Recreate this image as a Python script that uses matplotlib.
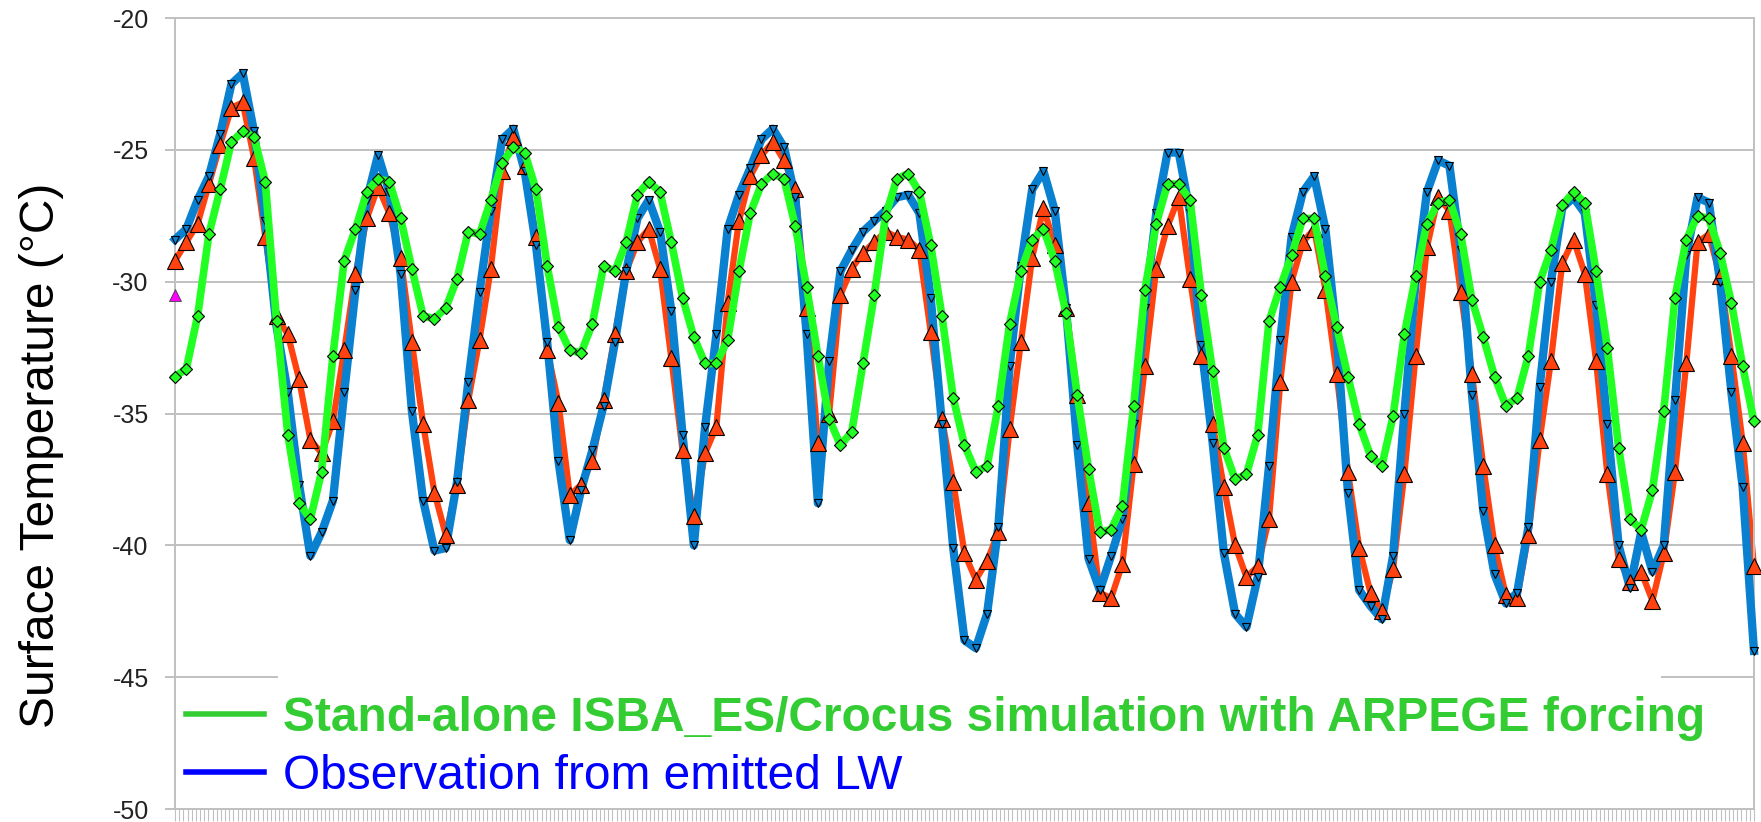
import numpy as np
import matplotlib
matplotlib.use('Agg')
import matplotlib.pyplot as plt
from matplotlib.patches import Rectangle
from matplotlib.lines import Line2D

plt.rcParams['font.family'] = ['Liberation Sans', 'DejaVu Sans']
plt.rcParams['axes.unicode_minus'] = False

# Stand-alone ISBA_ES/Crocus simulation (green)
sim = [-33.6, -33.3, -31.3, -28.2, -26.5, -24.7, -24.3, -24.5, -26.2, -31.5,
       -35.8, -38.4, -39.0, -37.2, -32.8, -29.2, -28.0, -26.6, -26.1, -26.2,
       -27.6, -29.5, -31.3, -31.4, -31.0, -29.9, -28.1, -28.2, -26.9, -25.5,
       -24.9, -25.1, -26.5, -29.4, -31.7, -32.6, -32.7, -31.6, -29.4, -29.6,
       -28.5, -26.7, -26.2, -26.6, -28.5, -30.6, -32.1, -33.1, -33.1, -32.2,
       -29.6, -27.4, -26.3, -25.9, -26.1, -27.9, -30.2, -32.8, -35.2, -36.2,
       -35.7, -33.1, -30.5, -27.5, -26.1, -25.9, -26.6, -28.6, -31.3, -34.4,
       -36.2, -37.2, -37.0, -34.7, -31.6, -29.6, -28.4, -28.0, -29.2, -31.2,
       -34.3, -37.1, -39.5, -39.4, -38.5, -34.7, -30.3, -27.8, -26.3, -26.3,
       -26.9, -30.5, -33.4, -36.3, -37.5, -37.3, -35.8, -31.5, -30.2, -29.0,
       -27.6, -27.6, -29.8, -31.7, -33.6, -35.4, -36.6, -37.0, -35.1, -32.0,
       -29.8, -27.8, -27.0, -26.9, -28.2, -30.7, -32.1, -33.6, -34.7, -34.4,
       -32.8, -30.0, -28.8, -27.1, -26.6, -27.0, -29.6, -32.5, -36.3, -39.0,
       -39.4, -37.9, -34.9, -30.6, -28.4, -27.5, -27.6, -28.9, -30.8, -33.2,
       -35.3]

# Observation from emitted LW (blue)
obs = [-28.4, -28.0, -26.9, -26.0, -24.4, -22.5, -22.1, -24.3, -27.7, -31.7,
       -34.2, -37.7, -40.4, -39.5, -38.3, -34.2, -30.3, -26.9, -25.2, -26.6,
       -29.7, -34.9, -38.3, -40.2, -40.1, -37.6, -33.8, -30.4, -27.3, -24.6,
       -24.2, -25.8, -28.6, -32.3, -36.8, -39.8, -37.9, -36.4, -34.7, -32.3,
       -29.6, -27.6, -26.9, -28.1, -31.1, -35.8, -40.0, -35.5, -32.0, -28.0,
       -26.7, -25.7, -24.6, -24.2, -24.9, -26.8, -32.0, -38.4, -33.0, -29.6,
       -28.8, -28.1, -27.7, -27.3, -26.8, -26.7, -27.4, -30.6, -35.4, -40.1,
       -43.6, -43.9, -42.6, -39.3, -33.2, -29.4, -26.5, -25.8, -27.3, -31.0,
       -36.2, -40.5, -41.7, -40.4, -39.0, -35.4, -31.0, -27.4, -25.1, -25.1,
       -27.4, -32.4, -36.1, -40.3, -42.6, -43.1, -41.2, -37.0, -32.2, -28.3,
       -26.6, -26.0, -28.0, -32.0, -38.0, -41.7, -42.3, -42.8, -40.4, -35.0,
       -30.0, -26.6, -25.4, -25.6, -28.8, -34.3, -38.7, -41.1, -42.2, -41.8,
       -39.3, -34.0, -30.0, -27.2, -26.8, -27.4, -30.9, -35.4, -40.0, -41.6,
       -39.5, -41.0, -40.0, -34.5, -29.0, -26.8, -27.0, -30.0, -34.2, -37.8,
       -44.0]

# third series (orange triangles)
other = [-29.2, -28.5, -27.8, -26.3, -24.8, -23.4, -23.2, -25.3, -28.3, -31.3,
         -32.0, -33.7, -36.0, -36.5, -35.3, -32.6, -29.7, -27.6, -26.4, -27.4,
         -29.1, -32.3, -35.4, -38.0, -39.6, -37.7, -34.5, -32.2, -29.5, -25.8,
         -24.5, -25.6, -28.3, -32.6, -34.6, -38.1, -37.7, -36.8, -34.5, -32.0,
         -29.6, -28.5, -28.0, -29.5, -32.9, -36.4, -38.9, -36.5, -35.5, -30.8,
         -27.7, -26.0, -25.2, -24.7, -25.4, -26.5, -31.0, -36.1, -35.0, -30.5,
         -29.5, -28.9, -28.5, -28.1, -28.3, -28.4, -28.8, -31.9, -35.2, -37.6,
         -40.3, -41.3, -40.6, -39.5, -35.6, -32.3, -29.1, -27.2, -28.6, -31.0,
         -34.3, -38.4, -41.8, -42.0, -40.7, -36.9, -33.2, -29.5, -27.9, -26.8,
         -29.9, -32.8, -35.4, -37.8, -40.0, -41.2, -40.8, -39.0, -33.8, -30.0,
         -28.5, -28.0, -30.3, -33.5, -37.2, -40.1, -41.8, -42.5, -40.9, -37.3,
         -32.8, -28.7, -26.8, -27.3, -30.4, -33.5, -37.0, -40.0, -41.9, -42.0,
         -39.6, -36.0, -33.0, -29.3, -28.4, -29.7, -33.0, -37.3, -40.5, -41.4,
         -41.0, -42.1, -40.3, -37.2, -33.1, -28.5, -28.2, -29.8, -32.8, -36.1,
         -40.8]

first_point = [-30.5]

labels = ['Stand-alone ISBA_ES/Crocus simulation with ARPEGE forcing',
          'Observation from emitted LW']
label_colors = ['#33cc33', '#0000ff']
yticks = [-50, -45, -40, -35, -30, -25, -20]

grey = '#c0c0c0'
x = np.arange(len(sim))

fig = plt.figure(figsize=(17.61, 8.22), dpi=100)
ax = fig.add_axes([0.0994, 0.0158, 0.8966, 0.9622])

# lines first, then markers on top, green series last
ax.plot(x, other, color='#ff4210', lw=4.5, zorder=2, clip_on=False)
ax.plot(x, obs, color='#0a80d0', lw=6, zorder=3, clip_on=False)
ax.plot(x, other, ls='none', marker='^', ms=11.5, mfc='#ff4210', mec='black',
        mew=0.8, zorder=4, clip_on=False)
ax.plot(x, obs, ls='none', marker='v', ms=6, mfc='#0a80d0', mec='black',
        mew=0.8, zorder=5, clip_on=False)
ax.plot(x, sim, color='#22ff22', lw=5.5, marker='D', ms=6.5, mfc='#22ff22',
        mec='black', mew=0.8, zorder=6, clip_on=False)
ax.plot([0], first_point, ls='none', marker='^', ms=9, mfc='#ff00ff',
        mec='#444444', mew=0.6, zorder=7, clip_on=False)

ax.set_xlim(0, len(sim) - 1)
ax.set_ylim(-50, -20)
ax.set_yticks(yticks)
ax.set_xticks([])
ax.set_xticks(np.linspace(0, len(sim) - 1, 380), minor=True)
ax.tick_params(axis='x', which='minor', length=8.5, width=0.8, color=grey,
               labelbottom=False)
ax.tick_params(axis='y', length=7, width=1.4, color=grey, labelsize=18,
               labelcolor='#222222', pad=12)
ax.set_axisbelow(True)
ax.grid(axis='y', color=grey, lw=1.4)
for s in ax.spines.values():
    s.set_color(grey)
    s.set_linewidth(1.4)

# white box behind the legend hides part of the -45 grid line
ax.add_patch(Rectangle((0.065, 0.01), 0.876, 0.1616, transform=ax.transAxes,
                       facecolor='white', edgecolor='none', zorder=1))

handles = [Line2D([], [], color=c, lw=4) for c in label_colors]
leg = ax.legend(handles, labels, loc='lower left', bbox_to_anchor=(0.007, 0.013),
                frameon=False, fontsize=34.5, handlelength=1.63, handletextpad=0.4,
                labelspacing=0.27, borderpad=0, borderaxespad=0)
for t, c in zip(leg.get_texts(), label_colors):
    t.set_color(c)
leg.get_texts()[0].set_fontweight('bold')

fig.text(0.0235, 0.4465, 'Surface Temperature (°C)', rotation=90, fontsize=34.5,
         ha='center', va='center')

fig.savefig('out.png', dpi=100)
